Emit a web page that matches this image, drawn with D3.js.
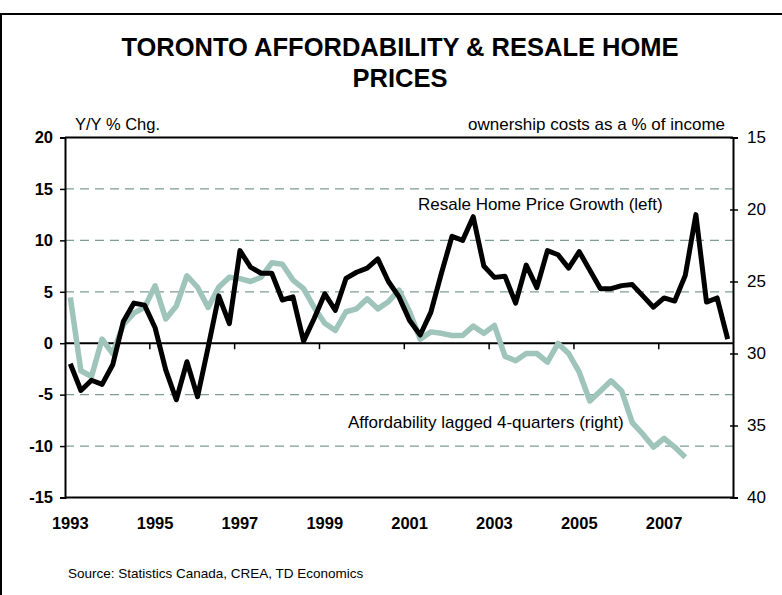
<!DOCTYPE html>
<html>
<head>
<meta charset="utf-8">
<script src="https://cdn.jsdelivr.net/npm/d3@7"></script>
<style>
    body { margin: 0; background: #fff; }
    svg { display: block; font-family: "Liberation Sans", Arial, sans-serif; }
</style>
</head>
<body>
<svg id="chart" width="782" height="595"></svg>
<script>
// quarters, 1993Q1 .. 2008Q3
var quarters = [
    "1993Q1", "1993Q2", "1993Q3", "1993Q4", "1994Q1", "1994Q2", "1994Q3", "1994Q4",
    "1995Q1", "1995Q2", "1995Q3", "1995Q4", "1996Q1", "1996Q2", "1996Q3", "1996Q4",
    "1997Q1", "1997Q2", "1997Q3", "1997Q4", "1998Q1", "1998Q2", "1998Q3", "1998Q4",
    "1999Q1", "1999Q2", "1999Q3", "1999Q4", "2000Q1", "2000Q2", "2000Q3", "2000Q4",
    "2001Q1", "2001Q2", "2001Q3", "2001Q4", "2002Q1", "2002Q2", "2002Q3", "2002Q4",
    "2003Q1", "2003Q2", "2003Q3", "2003Q4", "2004Q1", "2004Q2", "2004Q3", "2004Q4",
    "2005Q1", "2005Q2", "2005Q3", "2005Q4", "2006Q1", "2006Q2", "2006Q3", "2006Q4",
    "2007Q1", "2007Q2", "2007Q3", "2007Q4", "2008Q1", "2008Q2", "2008Q3"
];

// resale home price growth, y/y % (left axis)
var priceGrowth = [
    -2.0, -4.6, -3.6, -4.0, -2.1, 2.1, 3.9, 3.7,
    1.5, -2.6, -5.5, -1.8, -5.2, -0.4, 4.6, 1.9,
    9.0, 7.4, 6.8, 6.8, 4.2, 4.5, 0.2, 2.4,
    4.8, 3.2, 6.3, 6.9, 7.3, 8.2, 6.0, 4.5,
    2.2, 0.8, 3.0, 6.8, 10.4, 10.0, 12.3, 7.5,
    6.4, 6.5, 3.9, 7.6, 5.4, 9.0, 8.6, 7.3,
    8.9, 7.1, 5.3, 5.3, 5.6, 5.7, 4.6, 3.5,
    4.4, 4.1, 6.6, 12.5, 4.0, 4.4, 0.4
];

// ownership costs as % of income, lagged 4 quarters (right axis, inverted)
var affordability = [
    26.1, 31.2, 31.6, 29.0, 30.0, 28.0, 27.2, 26.8,
    25.3, 27.6, 26.7, 24.6, 25.4, 26.8, 25.4, 24.7,
    24.8, 25.0, 24.7, 23.7, 23.8, 24.9, 25.5, 26.8,
    27.9, 28.4, 27.1, 26.9, 26.2, 26.9, 26.4, 25.6,
    27.1, 29.0, 28.5, 28.6, 28.75, 28.75, 28.1, 28.6,
    28.05, 30.2, 30.5, 30.0, 30.0, 30.6, 29.3, 30.0,
    31.3, 33.3, 32.6, 31.9, 32.6, 34.8, 35.6, 36.5,
    35.9, 36.5, 37.2
];

var leftTicks = [20, 15, 10, 5, 0, -5, -10, -15];
var rightTicks = [15, 20, 25, 30, 35, 40];
var gridValues = [15, 10, 5, -5, -10];
var yearLabels = ["1993", "1995", "1997", "1999", "2001", "2003", "2005", "2007"];

var plot = { left: 65, right: 733, top: 137.5, bottom: 497.5 };

var svg = d3.select("#chart");

var xScale = d3.scaleBand()
    .domain(quarters)
    .range([plot.left, plot.right])
    .padding(0);

var yLeft = d3.scaleLinear()
    .domain([-15, 20])
    .range([plot.bottom, plot.top]);

var yRight = d3.scaleLinear()
    .domain([40, 15])
    .range([plot.bottom, plot.top]);

var cx = (q) => xScale(q) + xScale.bandwidth() / 2;

//outer frame
svg.append("rect")
    .attr("x", 1)
    .attr("y", 14)
    .attr("width", 782)
    .attr("height", 600)
    .attr("fill", "none")
    .attr("stroke", "#000")
    .attr("stroke-width", 2);

//title
var title = svg.append("text")
    .attr("text-anchor", "middle")
    .attr("font-size", 25.5)
    .attr("font-weight", "bold")
    .attr("fill", "#000");
title.append("tspan").attr("x", 400).attr("y", 56).text("TORONTO AFFORDABILITY & RESALE HOME");
title.append("tspan").attr("x", 400).attr("y", 87).text("PRICES");

//axis captions
svg.append("text")
    .attr("x", 75)
    .attr("y", 130)
    .attr("font-size", 16.5)
    .text("Y/Y % Chg.");

svg.append("text")
    .attr("x", 725)
    .attr("y", 130)
    .attr("text-anchor", "end")
    .attr("font-size", 17)
    .text("ownership costs as a % of income");

//dashed gridlines
svg.append("g")
    .selectAll("line")
    .data(gridValues)
    .enter()
    .append("line")
    .attr("x1", plot.left)
    .attr("x2", plot.right)
    .attr("y1", (d) => yLeft(d))
    .attr("y2", (d) => yLeft(d))
    .attr("stroke", "#7d9c95")
    .attr("stroke-width", 1.2)
    .attr("stroke-dasharray", "9,6");

//left axis (plain hyphen for negatives)
var leftAxis = svg.append("g")
    .attr("id", "yAxis")
    .attr("transform", `translate(${plot.left}, 0)`)
    .call(d3.axisLeft(yLeft).tickValues(leftTicks).tickSize(5).tickPadding(7).tickFormat((d) => String(d)));

//right axis
var rightAxis = svg.append("g")
    .attr("id", "yAxisRight")
    .attr("transform", `translate(${plot.right}, 0)`)
    .call(d3.axisRight(yRight).tickValues(rightTicks).tickSize(5).tickPadding(9).tickFormat((d) => String(d)));

leftAxis.selectAll("text").attr("font-size", 16.5).attr("font-weight", "bold").attr("font-family", null).attr("fill", "#000");
rightAxis.selectAll("text").attr("font-size", 17).attr("font-family", null).attr("fill", "#000");
svg.selectAll(".domain").attr("stroke", "#000").attr("stroke-width", 2);
svg.selectAll(".tick line").attr("stroke", "#000").attr("stroke-width", 1.5);
rightAxis.selectAll(".tick line").attr("x1", -3);

//top and bottom borders of the plot
[yLeft(20), yLeft(-15)].forEach((y) => {
    svg.append("line")
        .attr("x1", plot.left).attr("x2", plot.right)
        .attr("y1", y).attr("y2", y)
        .attr("stroke", "#000").attr("stroke-width", 2);
});

//zero line with category ticks every 8 quarters
var xAxis = svg.append("g")
    .attr("id", "xAxis")
    .attr("transform", `translate(0, ${yLeft(0)})`);

xAxis.append("line")
    .attr("x1", plot.left).attr("x2", plot.right)
    .attr("stroke", "#000").attr("stroke-width", 2);

xAxis.selectAll(".qtick")
    .data(quarters.filter((q, i) => i > 0 && i % 8 === 0))
    .enter()
    .append("line")
    .attr("class", "qtick")
    .attr("x1", (q) => xScale(q))
    .attr("x2", (q) => xScale(q))
    .attr("y1", 0)
    .attr("y2", 6)
    .attr("stroke", "#000")
    .attr("stroke-width", 1.5);

//year labels under the plot
svg.append("g")
    .selectAll("text")
    .data(yearLabels)
    .enter()
    .append("text")
    .attr("x", (y) => cx(y + "Q1"))
    .attr("y", 529)
    .attr("text-anchor", "middle")
    .attr("font-size", 16.5)
    .attr("font-weight", "bold")
    .text((y) => y);

//lines
var affLine = d3.line()
    .x((d, i) => cx(quarters[i]))
    .y((d) => yRight(d));

var priceLine = d3.line()
    .x((d, i) => cx(quarters[i]))
    .y((d) => yLeft(d));

svg.append("path")
    .datum(affordability)
    .attr("d", affLine)
    .attr("fill", "none")
    .attr("stroke", "#9fc4b9")
    .attr("stroke-width", 5.5)
    .attr("stroke-linejoin", "round");

svg.append("path")
    .datum(priceGrowth)
    .attr("d", priceLine)
    .attr("fill", "none")
    .attr("stroke", "#000")
    .attr("stroke-width", 5)
    .attr("stroke-linejoin", "round");

//series notes
svg.append("text")
    .attr("x", 418)
    .attr("y", 210)
    .attr("font-size", 17)
    .text("Resale Home Price Growth (left)");

svg.append("text")
    .attr("x", 348)
    .attr("y", 428)
    .attr("font-size", 17)
    .text("Affordability lagged 4-quarters (right)");

//source
svg.append("text")
    .attr("x", 68)
    .attr("y", 578)
    .attr("font-size", 13.5)
    .text("Source: Statistics Canada, CREA, TD Economics");
</script>
</body>
</html>
